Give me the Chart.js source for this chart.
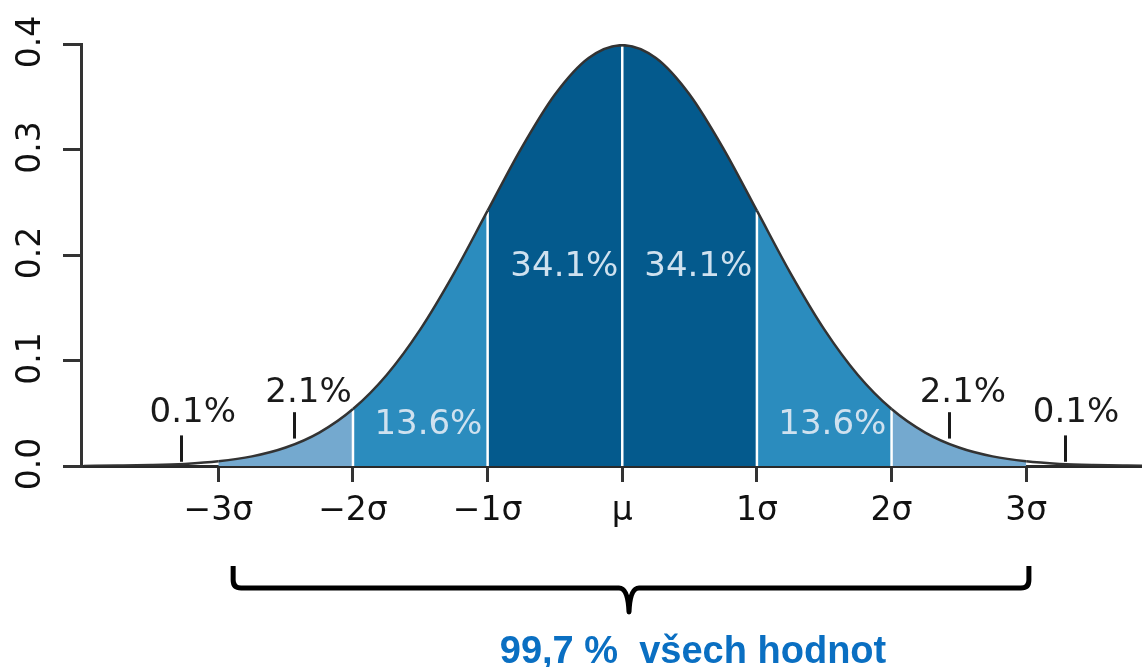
<!DOCTYPE html>
<html>
<head>
<meta charset="utf-8">
<script src="https://cdn.jsdelivr.net/npm/chart.js@4.4.1/dist/chart.umd.min.js"></script>
<style>
html, body { margin: 0; padding: 0; background: #fff; }
canvas { display: block; }
</style>
</head>
<body>
<canvas id="graf" width="1142" height="667"></canvas>
<script>
// hodnoty (x v sigmach, hustota)
const sigmaX = [-4, -3.75, -3.5, -3.25, -3, -2.75, -2.5, -2.25, -2, -1.75, -1.5, -1.25, -1, -0.75, -0.5, -0.25,
    0, 0.25, 0.5, 0.75, 1, 1.25, 1.5, 1.75, 2, 2.25, 2.5, 2.75, 3, 3.25, 3.5, 3.75, 4]
const hustota = [0.0001, 0.0004, 0.0009, 0.0020, 0.0044, 0.0091, 0.0175, 0.0317, 0.0540, 0.0863, 0.1295, 0.1826, 0.2420, 0.3011, 0.3521, 0.3867,
    0.3989, 0.3867, 0.3521, 0.3011, 0.2420, 0.1826, 0.1295, 0.0863, 0.0540, 0.0317, 0.0175, 0.0091, 0.0044, 0.0020, 0.0009, 0.0004, 0.0001]
const xTicks = [-3, -2, -1, 0, 1, 2, 3]
const xLabels = ['\u22123\u03c3', '\u22122\u03c3', '\u22121\u03c3', '\u03bc', '1\u03c3', '2\u03c3', '3\u03c3']
const yTicks = [0, 0.1, 0.2, 0.3, 0.4]
const yLabels = ['0.0', '0.1', '0.2', '0.3', '0.4']
const hranice = [-2, -1, 0, 1, 2]
const procenta = ['0.1%', '2.1%', '13.6%', '34.1%', '34.1%', '13.6%', '2.1%', '0.1%']
const popisek = '99,7 %  v\u0161ech hodnot'

const tmava = '#045a8d'
const stredni = '#2b8cbe'
const svetla = '#74a9cf'

function barvaPasu(ctx) {
    let x = (ctx.p0.parsed.x + ctx.p1.parsed.x) / 2
    let a = Math.abs(x)
    if (a < 1) return tmava
    if (a < 2) return stredni
    if (a < 3) return svetla
    return 'rgba(0,0,0,0)'
}

let kresleni = {
    id: 'kresleni',
    beforeDatasetDraw(chart) {
        // bile svisle cary mezi pasy
        let ctx = chart.ctx
        let xs = chart.scales.x, ys = chart.scales.y
        ctx.save()
        ctx.strokeStyle = '#fff'
        ctx.lineWidth = 2.5
        hranice.forEach(h => {
            let i = sigmaX.indexOf(h)
            let px = xs.getPixelForValue(h)
            ctx.beginPath()
            ctx.moveTo(px, ys.getPixelForValue(0))
            ctx.lineTo(px, ys.getPixelForValue(hustota[i]) + 1)
            ctx.stroke()
        })
        ctx.restore()
    },
    afterDraw(chart) {
        let ctx = chart.ctx
        let xs = chart.scales.x, ys = chart.scales.y
        ctx.save()
        // popisky osy y otocene
        ctx.font = '33px "DejaVu Sans"'
        ctx.fillStyle = '#111'
        ctx.textAlign = 'center'
        ctx.textBaseline = 'middle'
        yTicks.forEach((v, i) => {
            ctx.save()
            ctx.translate(31, ys.getPixelForValue(v) - 2)
            ctx.rotate(-Math.PI / 2)
            ctx.fillText(yLabels[i], 0, 0)
            ctx.restore()
        })
        // procenta
        let poz = [[-3.19, 0.0502], [-2.33, 0.069], [-1.44, 0.039], [-0.43, 0.1886],
            [0.565, 0.1886], [1.56, 0.039], [2.53, 0.069], [3.37, 0.0502]]
        ctx.font = '34px "DejaVu Sans"'
        procenta.forEach((t, i) => {
            let svetle = i >= 2 && i <= 5
            ctx.fillStyle = svetle ? '#cfe1ef' : '#1a1a1a'
            ctx.fillText(t, xs.getPixelForValue(poz[i][0]), ys.getPixelForValue(poz[i][1]))
        })
        // ukazatele
        let uk = [[-3.28, 0.029, 0.004], [-2.44, 0.051, 0.026], [2.43, 0.051, 0.026], [3.29, 0.029, 0.004]]
        ctx.strokeStyle = '#1a1a1a'
        ctx.lineWidth = 3
        uk.forEach(u => {
            let px = Math.round(xs.getPixelForValue(u[0])) + 0.5
            ctx.beginPath()
            ctx.moveTo(px, ys.getPixelForValue(u[1]))
            ctx.lineTo(px, ys.getPixelForValue(u[2]))
            ctx.stroke()
        })
        // slozena zavorka
        let l = xs.getPixelForValue(-2.89), r = xs.getPixelForValue(3.02), m = xs.getPixelForValue(0.05)
        let top = 566, mid = 588, tip = 612
        ctx.strokeStyle = '#000'
        ctx.lineWidth = 5
        ctx.lineJoin = 'round'
        ctx.beginPath()
        ctx.moveTo(l, top)
        ctx.lineTo(l, mid - 8)
        ctx.quadraticCurveTo(l, mid, l + 8, mid)
        ctx.lineTo(m - 10, mid)
        ctx.quadraticCurveTo(m - 1, mid, m, tip)
        ctx.quadraticCurveTo(m + 1, mid, m + 10, mid)
        ctx.lineTo(r - 8, mid)
        ctx.quadraticCurveTo(r, mid, r, mid - 8)
        ctx.lineTo(r, top)
        ctx.stroke()
        // text pod zavorkou
        ctx.font = 'bold 38px "Liberation Sans"'
        ctx.fillStyle = '#0a6fc2'
        ctx.textBaseline = 'alphabetic'
        ctx.fillText(popisek, 693, 663)
        ctx.restore()
    }
}

let ctx = document.getElementById('graf')
let chart = new Chart(ctx, {
    type: 'line',
    data: {
        datasets: [{
            data: sigmaX.map((x, i) => ({x: x, y: hustota[i]})),
            borderColor: '#333',
            borderWidth: 2.5,
            backgroundColor: 'rgba(0,0,0,0)',
            fill: 'origin',
            pointRadius: 0,
            cubicInterpolationMode: 'monotone',
            segment: { backgroundColor: barvaPasu }
        }]
    },
    options: {
        responsive: false,
        devicePixelRatio: 1,
        animation: false,
        layout: { padding: { top: 44, right: 0, left: 0, bottom: 0 } },
        plugins: { legend: { display: false }, tooltip: { enabled: false } },
        scales: {
            x: {
                type: 'linear',
                min: -4.02,
                max: 3.86,
                z: 1,
                afterBuildTicks: s => { s.ticks = xTicks.map(v => ({value: v})) },
                afterFit: s => { s.height = 201 },
                ticks: {
                    autoSkip: false,
                    maxRotation: 0,
                    padding: 10,
                    color: '#111',
                    font: { family: 'DejaVu Sans', size: 33 },
                    callback: (v) => xLabels[xTicks.indexOf(v)]
                },
                grid: { drawOnChartArea: false, drawTicks: true, tickLength: 16, lineWidth: 3, color: '#333' },
                border: { display: true, color: '#2a2a2a', width: 3 }
            },
            y: {
                min: 0,
                max: 0.4,
                z: 1,
                afterBuildTicks: s => { s.ticks = yTicks.map(v => ({value: v})) },
                afterFit: s => { s.width = 81 },
                ticks: { color: 'rgba(0,0,0,0)', font: { size: 10 } },
                grid: { drawOnChartArea: false, drawTicks: true, tickLength: 18, lineWidth: 3, color: '#333' },
                border: { display: true, color: '#333', width: 3 }
            }
        }
    },
    plugins: [kresleni]
})
</script>
</body>
</html>
